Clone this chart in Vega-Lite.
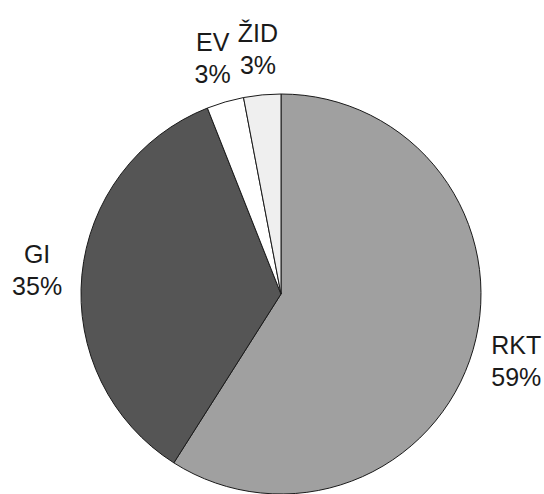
{
  "$schema": "https://vega.github.io/schema/vega-lite/v6.json",
  "width": 400,
  "height": 400,
  "autosize": {"type": "none"},
  "padding": {"left": 81, "top": 94, "right": 63, "bottom": 0},
  "background": "white",
  "data": {
    "values": [
      {"category": "RKT", "value": 59, "pct": "59%", "rank": 1},
      {"category": "GI", "value": 35, "pct": "35%", "rank": 2},
      {"category": "EV", "value": 3, "pct": "3%", "rank": 3},
      {"category": "ŽID", "value": 3, "pct": "3%", "rank": 4}
    ]
  },
  "encoding": {
    "theta": {"field": "value", "type": "quantitative", "stack": true},
    "order": {"field": "rank", "type": "quantitative"}
  },
  "layer": [
    {
      "mark": {"type": "arc", "outerRadius": 200, "stroke": "#1a1a1a", "strokeWidth": 1},
      "encoding": {
        "color": {
          "field": "category",
          "type": "nominal",
          "scale": {"domain": ["RKT", "GI", "EV", "ŽID"], "range": ["#a0a0a0", "#555555", "#ffffff", "#efefef"]},
          "legend": null
        }
      }
    },
    {
      "mark": {"type": "text", "radius": 245, "dy": -16, "fontSize": 25, "font": "Liberation Sans", "color": "#1a1a1a", "align": "center", "baseline": "middle"},
      "encoding": {"text": {"field": "category"}}
    },
    {
      "mark": {"type": "text", "radius": 245, "dy": 16, "fontSize": 25, "font": "Liberation Sans", "color": "#1a1a1a", "align": "center", "baseline": "middle"},
      "encoding": {"text": {"field": "pct"}}
    }
  ],
  "config": {"view": {"stroke": null}}
}
